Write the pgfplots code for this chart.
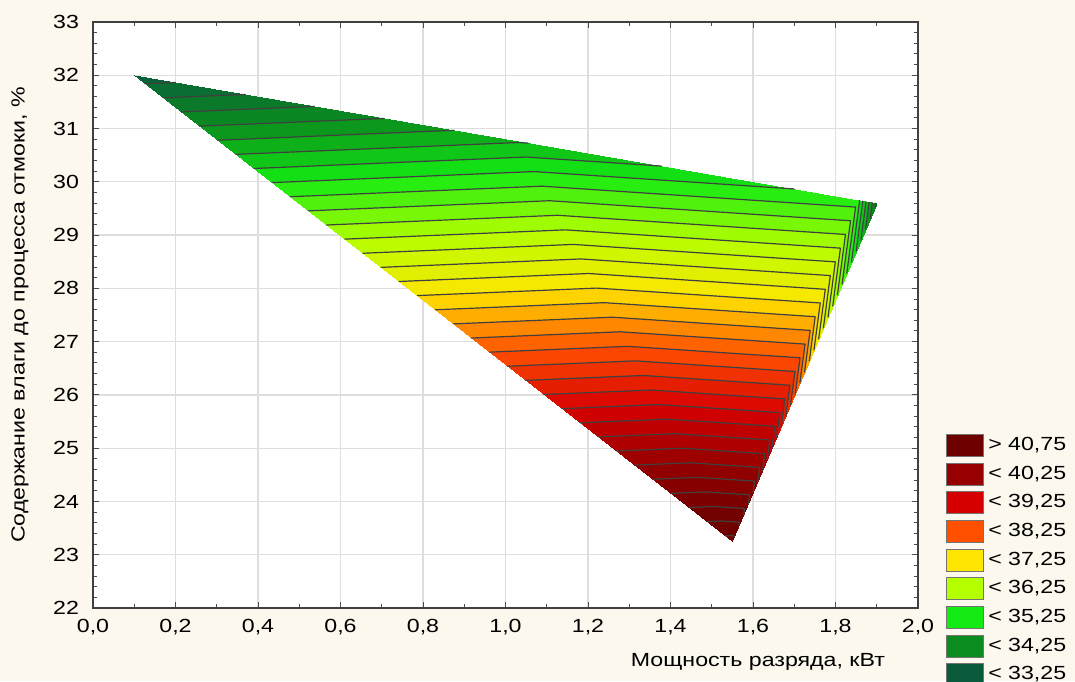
\documentclass[border=0pt]{standalone}
\usepackage{fontspec}
\setmainfont{Liberation Sans}[FakeStretch=1.22]
\usepackage{pgfplots}
\pgfplotsset{compat=1.18}

\definecolor{bgc}{RGB}{252,248,237}
\definecolor{c0}{RGB}{10,90,60}
\definecolor{c1}{RGB}{10,140,30}
\definecolor{c2}{RGB}{20,235,20}
\definecolor{c3}{RGB}{180,255,0}
\definecolor{c4}{RGB}{255,230,0}
\definecolor{c5}{RGB}{255,80,0}
\definecolor{c6}{RGB}{215,0,0}
\definecolor{c7}{RGB}{150,0,0}
\definecolor{c8}{RGB}{110,0,0}

\pgfplotsset{
  colormap={bands}{
    color(0pt)=(c0!87.5!c1) color(1pt)=(c0!62.5!c1) color(2pt)=(c0!37.5!c1) color(3pt)=(c0!12.5!c1)
    color(4pt)=(c1!87.5!c2) color(5pt)=(c1!62.5!c2) color(6pt)=(c1!37.5!c2) color(7pt)=(c1!12.5!c2)
    color(8pt)=(c2!87.5!c3) color(9pt)=(c2!62.5!c3) color(10pt)=(c2!37.5!c3) color(11pt)=(c2!12.5!c3)
    color(12pt)=(c3!87.5!c4) color(13pt)=(c3!62.5!c4) color(14pt)=(c3!37.5!c4) color(15pt)=(c3!12.5!c4)
    color(16pt)=(c4!87.5!c5) color(17pt)=(c4!62.5!c5) color(18pt)=(c4!37.5!c5) color(19pt)=(c4!12.5!c5)
    color(20pt)=(c5!87.5!c6) color(21pt)=(c5!62.5!c6) color(22pt)=(c5!37.5!c6) color(23pt)=(c5!12.5!c6)
    color(24pt)=(c6!87.5!c7) color(25pt)=(c6!62.5!c7) color(26pt)=(c6!37.5!c7) color(27pt)=(c6!12.5!c7)
    color(28pt)=(c7!87.5!c8) color(29pt)=(c7!62.5!c8) color(30pt)=(c7!37.5!c8) color(31pt)=(c7!12.5!c8)
    color(32pt)=(c8) color(33pt)=(c8) color(34pt)=(c8)
  }
}

\begin{document}
\begin{tikzpicture}
\fill[bgc] (0,0) rectangle (537.5pt,340.5pt);
\begin{axis}[
  at={(46.5pt,36.5pt)}, anchor=south west,
  scale only axis, width=412.5pt, height=293pt,
  xmin=0, xmax=2, ymin=22, ymax=33,
  axis background/.style={fill=white},
  xtick={0,0.2,0.4,0.6,0.8,1.0,1.2,1.4,1.6,1.8,2.0},
  ytick={22,23,24,25,26,27,28,29,30,31,32,33},
  minor x tick num=1, minor y tick num=4,
  tick align=inside, major tick length=3pt, minor tick length=2pt,
  tick style={black!70, line width=0.5pt},
  grid=major, major grid style={black!13, line width=0.6pt},
  axis line style={black!75, line width=0.6pt},
  font=\fontsize{9.5}{11}\selectfont,
  /pgf/number format/assume math mode=true,
  xticklabel style={/pgf/number format/use comma, /pgf/number format/fixed, /pgf/number format/fixed zerofill, /pgf/number format/precision=1, yshift=-2pt},
  yticklabel style={xshift=-3.5pt},
  xlabel={Мощность разряда, кВт},
  xlabel style={at={(axis description cs:0.9685,-0.099)}, anchor=base east},
  ylabel={Содержание влаги до процесса отмоки, \%},
  ylabel style={at={(axis description cs:-0.0885,0.5)}, anchor=center},
  colormap name=bands, colormap access=piecewise constant,
  point meta min=32.75, point meta max=41.25,
  legend style={at={(axis description cs:1.034,0.299)}, anchor=north west, draw=none, fill=none,
    font=\fontsize{9.5}{11}\selectfont, row sep=2.2pt, inner sep=0pt,
    /tikz/every even column/.append style={column sep=3pt}},
  legend cell align=left,
  legend image code/.code={\draw[#1, draw=black!55, line width=0.4pt] (0pt,-5.5pt) rectangle (18.5pt,5.5pt);},
]
\addplot[patch, patch type=triangle, shader=interp, point meta=explicit, forget plot]
  table[x=x, y=y, meta=v] {
x y v
0.100 32.00 32.85
1.030 30.76 34.23
1.550 23.25 41.10
1.030 30.76 34.23
1.855 29.66 34.87
1.550 23.25 41.10
1.855 29.66 34.87
1.900 29.60 33.40
1.550 23.25 41.10
};
\addplot[forget plot, black!75, line width=0.6pt, line join=round, unbounded coords=jump] coordinates {
(0.1264,31.841) (0.2011,31.865) (nan,nan)
(0.1703,31.576) (0.3696,31.641) (nan,nan)
(0.2142,31.311) (0.5380,31.416) (nan,nan) (1.8969,29.604) (1.8955,29.518) (nan,nan)
(0.2582,31.045) (0.7065,31.191) (nan,nan) (1.8893,29.614) (1.8841,29.311) (nan,nan)
(0.3021,30.780) (0.8750,30.967) (nan,nan) (1.8816,29.624) (1.8727,29.105) (nan,nan)
(0.3461,30.515) (1.0315,30.738) (1.0558,30.726) (nan,nan) (1.8740,29.635) (1.8614,28.899) (nan,nan)
(0.3900,30.250) (1.0504,30.465) (1.3780,30.296) (nan,nan) (1.8663,29.645) (1.8500,28.693) (nan,nan)
(0.4339,29.985) (1.0694,30.192) (1.7003,29.866) (nan,nan) (1.8587,29.655) (1.8386,28.487) (nan,nan)
(0.4779,29.720) (1.0883,29.918) (1.8486,29.526) (1.8273,28.281) (nan,nan)
(0.5218,29.455) (1.1072,29.645) (1.8364,29.269) (1.8159,28.074) (nan,nan)
(0.5658,29.189) (1.1261,29.372) (1.8242,29.012) (1.8045,27.868) (nan,nan)
(0.6097,28.924) (1.1451,29.098) (1.8119,28.755) (1.7932,27.662) (nan,nan)
(0.6536,28.659) (1.1640,28.825) (1.7997,28.497) (1.7818,27.456) (nan,nan)
(0.6976,28.394) (1.1829,28.552) (1.7874,28.240) (1.7705,27.250) (nan,nan)
(0.7415,28.129) (1.2018,28.279) (1.7752,27.983) (1.7591,27.044) (nan,nan)
(0.7855,27.864) (1.2207,28.005) (1.7630,27.726) (1.7477,26.837) (nan,nan)
(0.8294,27.598) (1.2397,27.732) (1.7507,27.468) (1.7364,26.631) (nan,nan)
(0.8733,27.333) (1.2586,27.459) (1.7385,27.211) (1.7250,26.425) (nan,nan)
(0.9173,27.068) (1.2775,27.185) (1.7262,26.954) (1.7136,26.219) (nan,nan)
(0.9612,26.803) (1.2964,26.912) (1.7140,26.697) (1.7023,26.013) (nan,nan)
(1.0052,26.538) (1.3154,26.639) (1.7018,26.440) (1.6909,25.807) (nan,nan)
(1.0491,26.273) (1.3343,26.365) (1.6895,26.182) (1.6795,25.600) (nan,nan)
(1.0930,26.008) (1.3532,26.092) (1.6773,25.925) (1.6682,25.394) (nan,nan)
(1.1370,25.742) (1.3721,25.819) (1.6650,25.668) (1.6568,25.188) (nan,nan)
(1.1809,25.477) (1.3910,25.546) (1.6528,25.411) (1.6455,24.982) (nan,nan)
(1.2248,25.212) (1.4100,25.272) (1.6406,25.153) (1.6341,24.776) (nan,nan)
(1.2688,24.947) (1.4289,24.999) (1.6283,24.896) (1.6227,24.570) (nan,nan)
(1.3127,24.682) (1.4478,24.726) (1.6161,24.639) (1.6114,24.363) (nan,nan)
(1.3567,24.417) (1.4667,24.452) (1.6039,24.382) (1.6000,24.157) (nan,nan)
(1.4006,24.152) (1.4857,24.179) (1.5916,24.125) (1.5886,23.951) (nan,nan)
(1.4445,23.886) (1.5046,23.906) (1.5794,23.867) (1.5773,23.745) (nan,nan)
(1.4885,23.621) (1.5235,23.633) (1.5671,23.610) (1.5659,23.539) (nan,nan)
(1.5324,23.356) (1.5424,23.359) (1.5549,23.353) (1.5545,23.332)
};
\addlegendimage{fill=c8}\addlegendentry{> 40,75}
\addlegendimage{fill=c7}\addlegendentry{< 40,25}
\addlegendimage{fill=c6}\addlegendentry{< 39,25}
\addlegendimage{fill=c5}\addlegendentry{< 38,25}
\addlegendimage{fill=c4}\addlegendentry{< 37,25}
\addlegendimage{fill=c3}\addlegendentry{< 36,25}
\addlegendimage{fill=c2}\addlegendentry{< 35,25}
\addlegendimage{fill=c1}\addlegendentry{< 34,25}
\addlegendimage{fill=c0}\addlegendentry{< 33,25}
\end{axis}
\pgfresetboundingbox
\useasboundingbox (0,0) rectangle (537.5pt,340.5pt);
\end{tikzpicture}
\end{document}
